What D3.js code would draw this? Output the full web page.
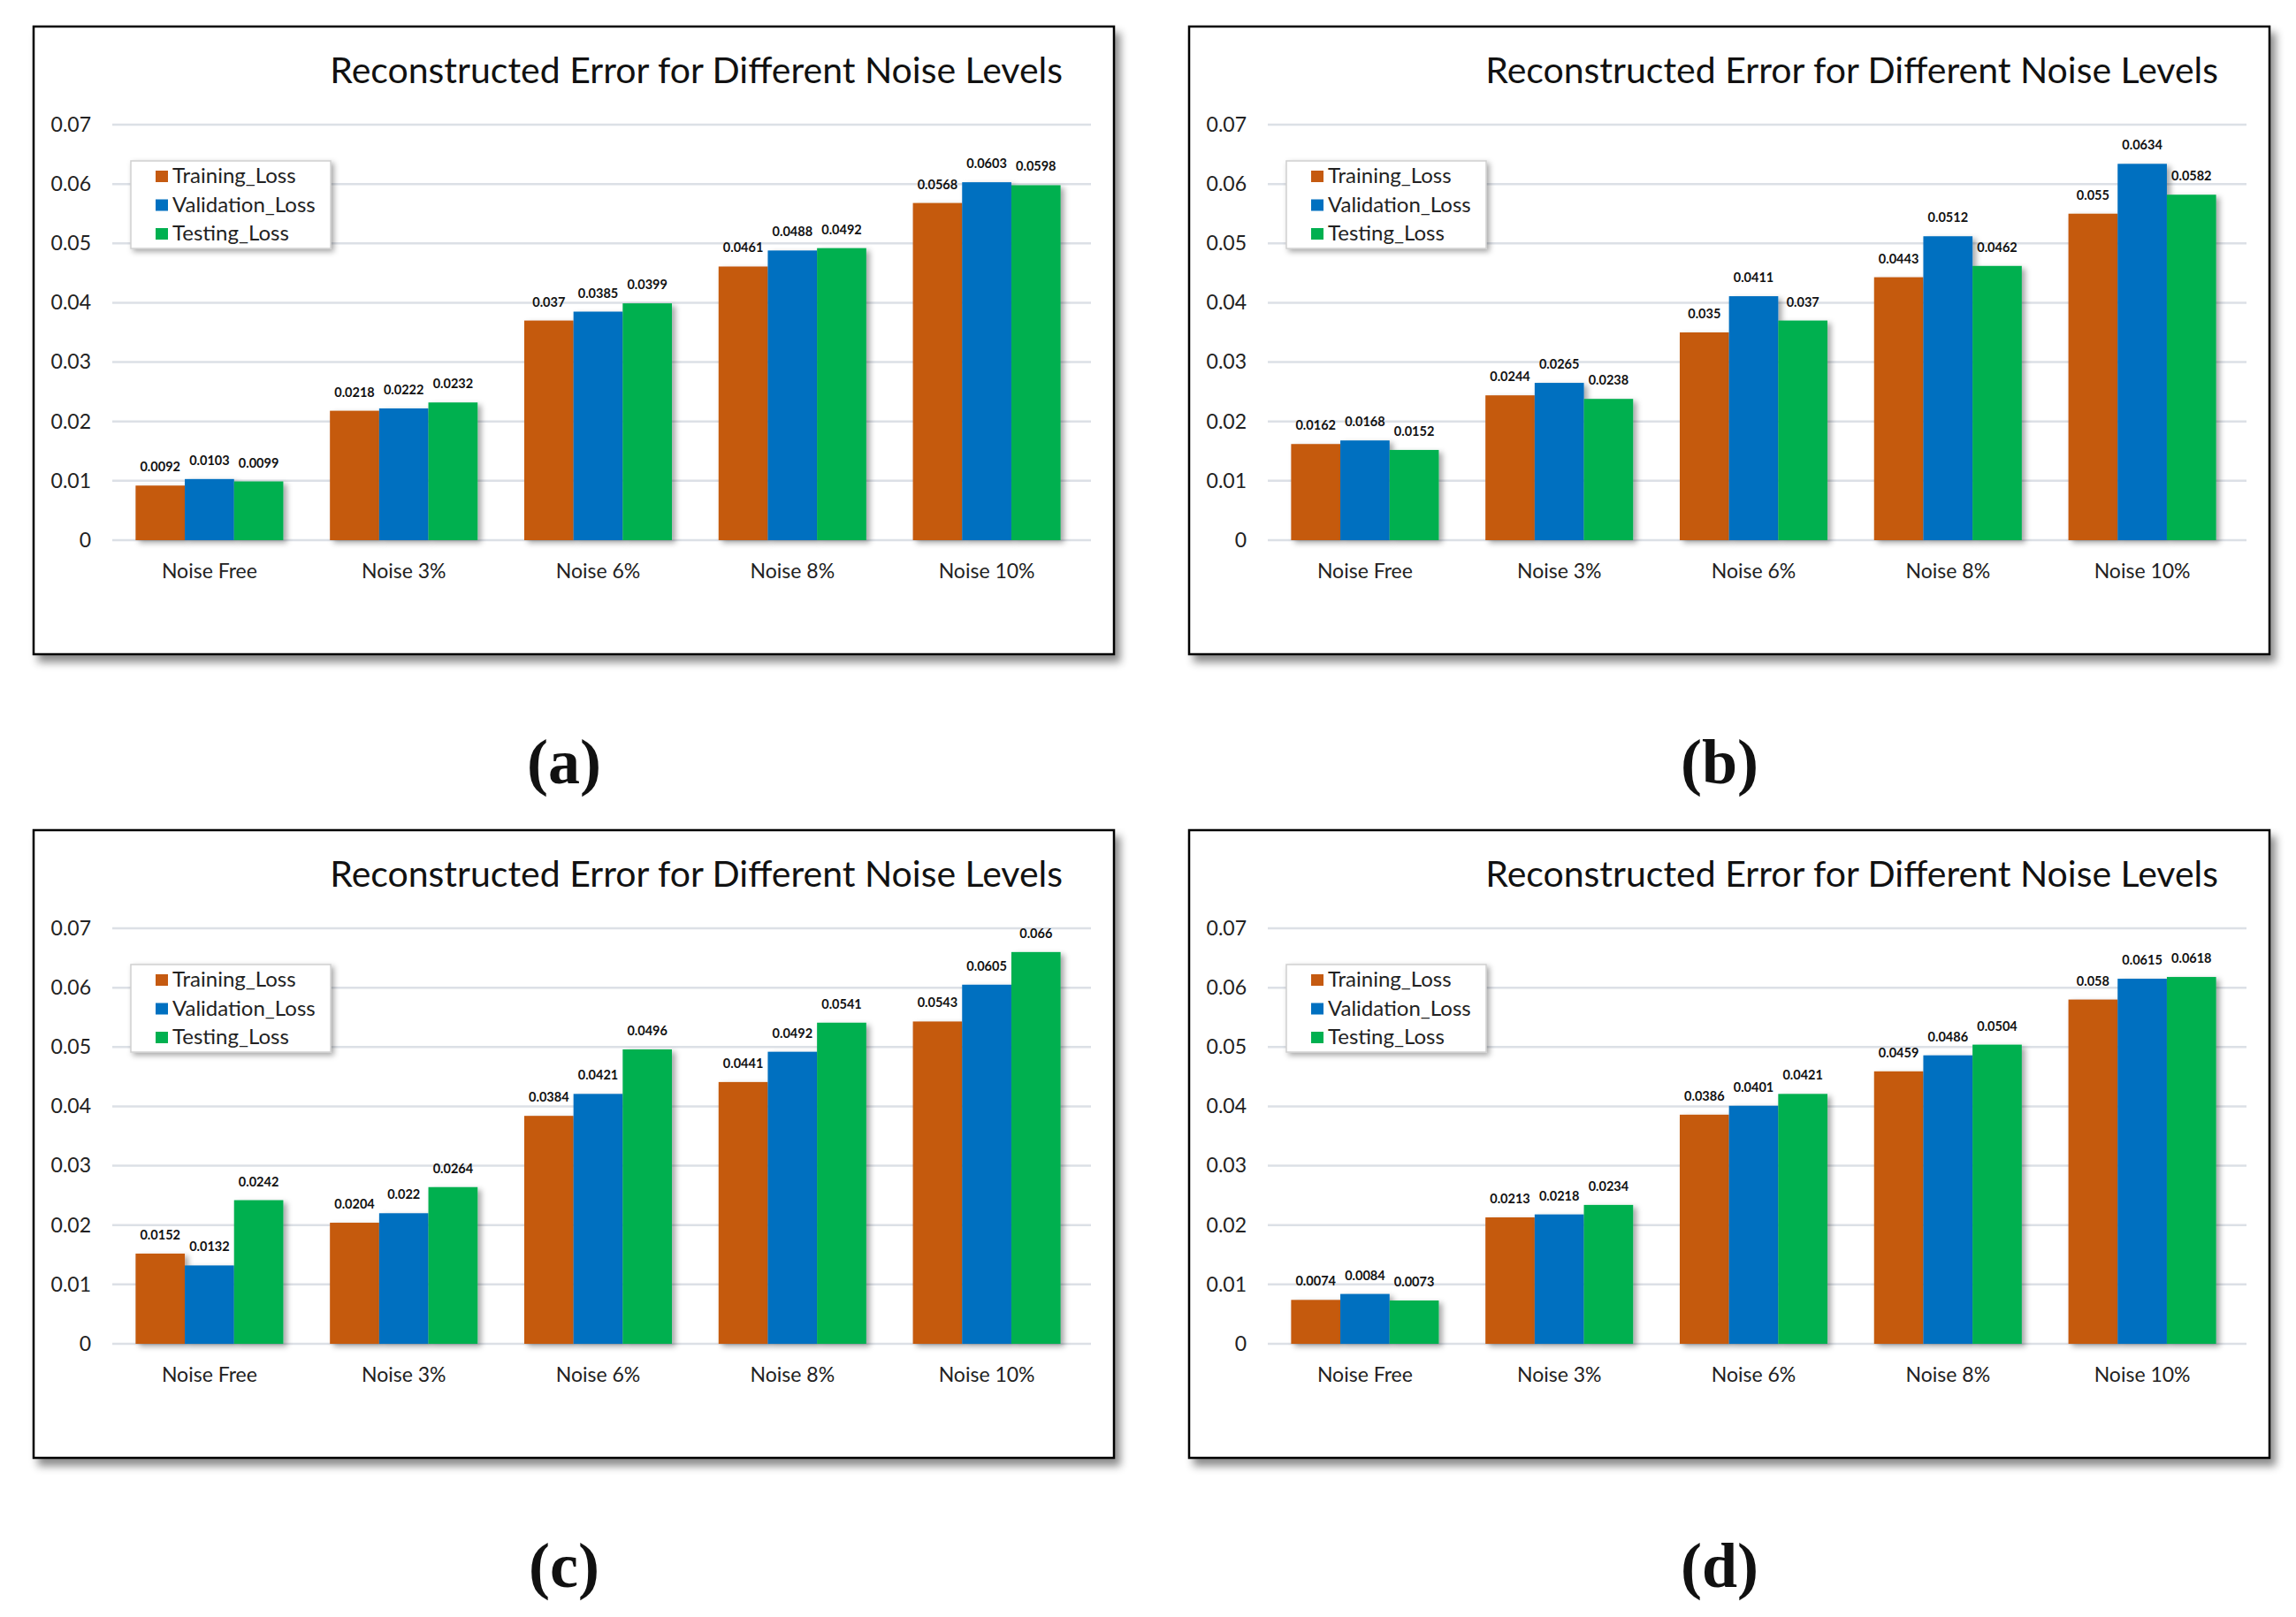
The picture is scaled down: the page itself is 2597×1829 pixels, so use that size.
<!DOCTYPE html>
<html>
<head>
<meta charset="utf-8">
<script src="https://cdn.jsdelivr.net/npm/d3@7"></script>
<style>
  body { margin: 0; background: #fff; }
  svg { display: block; }
</style>
</head>
<body>
<div id="chart"></div>
<script>
const categories = ["Noise Free", "Noise 3%", "Noise 6%", "Noise 8%", "Noise 10%"];
const seriesNames = ["Training_Loss", "Validation_Loss", "Testing_Loss"];
const seriesColors = ["#C55A11", "#0070C0", "#00B050"];
const yTicks = [0, 0.01, 0.02, 0.03, 0.04, 0.05, 0.06, 0.07];
const chartTitle = "Reconstructed Error for Different Noise Levels";

// (a)
const aTraining = [0.0092, 0.0218, 0.037, 0.0461, 0.0568];
const aValidation = [0.0103, 0.0222, 0.0385, 0.0488, 0.0603];
const aTesting = [0.0099, 0.0232, 0.0399, 0.0492, 0.0598];
// (b)
const bTraining = [0.0162, 0.0244, 0.035, 0.0443, 0.055];
const bValidation = [0.0168, 0.0265, 0.0411, 0.0512, 0.0634];
const bTesting = [0.0152, 0.0238, 0.037, 0.0462, 0.0582];
// (c)
const cTraining = [0.0152, 0.0204, 0.0384, 0.0441, 0.0543];
const cValidation = [0.0132, 0.022, 0.0421, 0.0492, 0.0605];
const cTesting = [0.0242, 0.0264, 0.0496, 0.0541, 0.066];
// (d)
const dTraining = [0.0074, 0.0213, 0.0386, 0.0459, 0.058];
const dValidation = [0.0084, 0.0218, 0.0401, 0.0486, 0.0615];
const dTesting = [0.0073, 0.0234, 0.0421, 0.0504, 0.0618];

const panels = [
  { tag: "(a)", x: 38, y: 30, series: [aTraining, aValidation, aTesting] },
  { tag: "(b)", x: 1345, y: 30, series: [bTraining, bValidation, bTesting] },
  { tag: "(c)", x: 38, y: 939, series: [cTraining, cValidation, cTesting] },
  { tag: "(d)", x: 1345, y: 939, series: [dTraining, dValidation, dTesting] }
];

const W = 2597, H = 1829;
const pw = 1222, ph = 710;
const font = "Lato, 'Open Sans', sans-serif";

const svg = d3.select("#chart").append("svg")
    .attr("width", W)
    .attr("height", H);

const defs = svg.append("defs");
const fs = defs.append("filter").attr("id", "frameShadow")
    .attr("x", "-5%").attr("y", "-5%").attr("width", "115%").attr("height", "115%");
fs.append("feDropShadow").attr("dx", 6).attr("dy", 8).attr("stdDeviation", 5)
    .attr("flood-color", "#000").attr("flood-opacity", 0.45);
const bs = defs.append("filter").attr("id", "barShadow")
    .attr("x", "-20%").attr("y", "-10%").attr("width", "150%").attr("height", "130%");
bs.append("feDropShadow").attr("dx", 4).attr("dy", 3).attr("stdDeviation", 3)
    .attr("flood-color", "#000").attr("flood-opacity", 0.35);
const ls = defs.append("filter").attr("id", "legendShadow")
    .attr("x", "-10%").attr("y", "-10%").attr("width", "130%").attr("height", "140%");
ls.append("feDropShadow").attr("dx", 3).attr("dy", 3).attr("stdDeviation", 3)
    .attr("flood-color", "#000").attr("flood-opacity", 0.35);

const gridLeft = 89, gridRight = 1196, plotTop = 111, plotBottom = 581;

const drawPanel = (p) => {
  const g = svg.append("g").attr("transform", `translate(${p.x},${p.y})`);

  g.append("rect")
      .attr("width", pw).attr("height", ph)
      .attr("fill", "#fff")
      .attr("stroke", "#000")
      .attr("stroke-width", 2.5)
      .attr("filter", "url(#frameShadow)");

  const x0 = d3.scaleBand().domain(categories)
      .range([89, 1188]).paddingInner(0.24).paddingOuter(0.12);
  const x1 = d3.scaleBand().domain(d3.range(seriesNames.length))
      .range([0, x0.bandwidth()]);
  const y = d3.scaleLinear().domain([0, 0.07]).range([plotBottom, plotTop]);

  // gridlines
  g.append("g").selectAll("line").data(yTicks).join("line")
      .attr("x1", gridLeft).attr("x2", gridRight)
      .attr("y1", d => y(d)).attr("y2", d => y(d))
      .attr("stroke", "#DCE0E6").attr("stroke-width", 2.5);

  // y axis labels
  const yAxis = g.append("g").attr("transform", `translate(65,0)`)
      .call(d3.axisLeft(y).tickValues(yTicks).tickSize(0).tickPadding(0)
        .tickFormat(d => d === 0 ? "0" : d3.format(".2f")(d)));
  yAxis.select(".domain").remove();
  yAxis.selectAll("text")
      .attr("font-family", font).attr("font-size", 23).attr("fill", "#222");

  // bars
  const rows = categories.map((c, i) => ({ cat: c, vals: p.series.map(s => s[i]) }));
  const groups = g.append("g").selectAll("g").data(rows).join("g")
      .attr("transform", d => `translate(${x0(d.cat)},0)`);
  groups.selectAll("rect").data(d => d.vals).join("rect")
      .attr("x", (d, i) => x1(i))
      .attr("y", d => y(d))
      .attr("width", x1.bandwidth())
      .attr("height", d => y(0) - y(d))
      .attr("fill", (d, i) => seriesColors[i])
      .attr("filter", "url(#barShadow)");
  groups.selectAll("text").data(d => d.vals).join("text")
      .attr("x", (d, i) => x1(i) + x1.bandwidth() / 2)
      .attr("y", d => y(d) - 16)
      .attr("text-anchor", "middle")
      .attr("font-family", font).attr("font-weight", "bold")
      .attr("font-size", 14.5).attr("fill", "#111")
      .text(d => String(d));

  // x labels
  g.append("g").selectAll("text").data(categories).join("text")
      .attr("x", d => x0(d) + x0.bandwidth() / 2)
      .attr("y", 624)
      .attr("text-anchor", "middle")
      .attr("font-family", font).attr("font-size", 23).attr("fill", "#222")
      .text(d => d);

  // title
  g.append("text")
      .attr("x", 1164).attr("y", 64)
      .attr("text-anchor", "end")
      .attr("font-family", font).attr("font-size", 41).attr("fill", "#111")
      .text(chartTitle);

  // legend
  const lg = g.append("g").attr("transform", "translate(110,152)");
  lg.append("rect").attr("width", 226).attr("height", 99)
      .attr("fill", "#fff").attr("stroke", "#D0D0D0").attr("stroke-width", 1.5)
      .attr("filter", "url(#legendShadow)");
  const items = lg.selectAll("g").data(seriesNames).join("g")
      .attr("transform", (d, i) => `translate(0,${17 + i * 32.5})`);
  items.append("rect").attr("x", 28).attr("y", -6).attr("width", 14).attr("height", 13)
      .attr("fill", (d, i) => seriesColors[i]);
  items.append("text").attr("x", 47).attr("y", 8)
      .attr("font-family", font).attr("font-size", 24).attr("fill", "#222")
      .text(d => d);

  // sub-figure tag
  svg.append("text")
      .attr("x", p.x + 600).attr("y", p.y + ph + 146)
      .attr("text-anchor", "middle")
      .attr("font-family", "'Liberation Serif', serif").attr("font-weight", "bold")
      .attr("font-size", 72).attr("fill", "#111")
      .text(p.tag);
};

panels.forEach(drawPanel);
</script>
</body>
</html>
